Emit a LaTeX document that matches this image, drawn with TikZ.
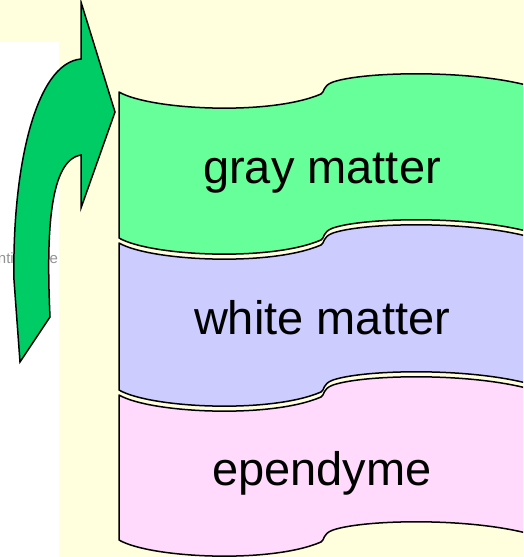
\documentclass[tikz,border=0pt]{standalone}
\usepackage{fontspec}
\setmainfont{Liberation Sans}
\definecolor{bgyellow}{HTML}{FFFFDD}
\definecolor{arrowgreen}{HTML}{00CC66}
\definecolor{graygreen}{HTML}{66FF99}
\definecolor{whiteblue}{HTML}{CCCCFF}
\definecolor{ependpink}{HTML}{FFDAFC}
\newcommand\wavefwd[1]{(119,#1) .. controls (150,{#1+18}) and (270,{#1+24}) .. (321,{#1+2}) .. controls (325,{#1}) and (322,{#1-6}) .. (333,{#1-10}) .. controls (365,{#1-21}) and (480,{#1-23}) .. (540,{#1-3})}
\newcommand\waverev[1]{(540,{#1-3}) .. controls (480,{#1-23}) and (365,{#1-21}) .. (333,{#1-10}) .. controls (322,{#1-6}) and (325,{#1}) .. (321,{#1+2}) .. controls (270,{#1+24}) and (150,{#1+18}) .. (119,#1)}
\begin{document}
\begin{tikzpicture}[x=1pt,y=-1pt,
  band/.style={draw=black,line width=1.5pt,line join=round},
  bigtext/.style={font=\fontsize{47}{56}\selectfont,anchor=base,inner sep=0pt},
  faint/.style={font=\fontsize{15}{17}\selectfont,text=gray!85,anchor=base,inner sep=0pt}]
\useasboundingbox (0,0) rectangle (523,557);
\fill[bgyellow] (0,0) rectangle (523,557);
\fill[white] (0,42) rectangle (59,557);
\node[faint,anchor=base east] (t1) at (14,263) {nti};
\node[faint,anchor=base west] (t2) at (49.5,263) {e};
\draw[fill=arrowgreen,line width=1.5pt,line join=miter] (115,112) -- (81,2) -- (81,59)
  .. controls (35,63) and (12,170) .. (14,280) -- (20,362) -- (50,317)
  .. controls (46,230) and (50,160) .. (81,155) -- (81,208) -- cycle;
\begin{scope}
\clip (0,0) rectangle (523,557);
\path[band,fill=graygreen] \wavefwd{92} -- \waverev{238} -- cycle;
\path[band,fill=whiteblue] \wavefwd{243} -- \waverev{390} -- cycle;
\path[band,fill=ependpink] \wavefwd{395} -- \waverev{540} -- cycle;
\end{scope}
\node[bigtext] (gm) at (322,183) {gray matter};
\node[bigtext] (wm) at (322,334) {white matter};
\node[bigtext] (ep) at (322,485) {ependyme};
\end{tikzpicture}
\end{document}
